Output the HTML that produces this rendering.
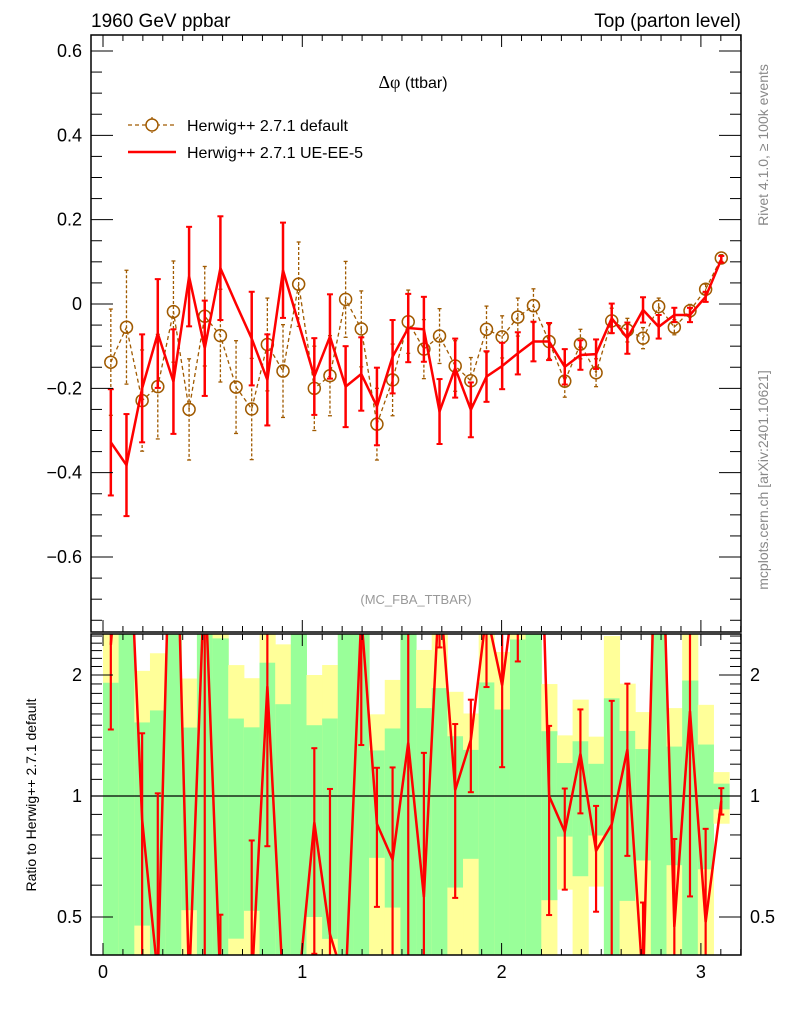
<!DOCTYPE html>
<html><head><meta charset="utf-8">
<style>
html,body{margin:0;padding:0;background:#fff;overflow:hidden;width:786px;height:1024px;}
svg{display:block;font-family:"Liberation Sans",sans-serif;}
</style></head>
<body>
<svg id="chart" width="786" height="1024" viewBox="0 0 786 1024">
<defs><clipPath id="ratioclip"><rect x="91" y="634" width="650" height="321"/></clipPath></defs>
<g id="gBands"></g>
<g id="gMarks"></g>
<g id="gRatio" clip-path="url(#ratioclip)"></g>
<g id="gAxes"></g>
<text x="91" y="27" font-size="19">1960 GeV ppbar</text>
<text x="741" y="27" font-size="19" text-anchor="end">Top (parton level)</text>
<text x="413" y="88" font-size="16" text-anchor="middle"><tspan font-family="Liberation Serif" font-size="18">Δφ</tspan> (ttbar)</text>
<text x="416" y="604" font-size="13" fill="#999" text-anchor="middle">(MC_FBA_TTBAR)</text>
<g>
 <g>
  <line x1="128" y1="125" x2="176" y2="125" stroke="#a05a00" stroke-width="1.3" stroke-dasharray="4,3"/>
  <line x1="152" y1="117" x2="152" y2="133" stroke="#a05a00" stroke-width="1.3" stroke-dasharray="3,2"/>
  <circle cx="152" cy="125" r="6" fill="#fff" stroke="#a05a00" stroke-width="1.5"/>
  <text x="187" y="131" font-size="16">Herwig++ 2.7.1 default</text>
 </g>
 <g>
  <line x1="128" y1="152" x2="176" y2="152" stroke="#ff0000" stroke-width="2.5"/>
  <text x="187" y="158" font-size="16">Herwig++ 2.7.1 UE-EE-5</text>
 </g>
</g>
<text transform="translate(768,145) rotate(-90)" font-size="14" fill="#888" text-anchor="middle">Rivet 4.1.0, ≥ 100k events</text>
<text transform="translate(768,480) rotate(-90)" font-size="14" fill="#888" text-anchor="middle">mcplots.cern.ch [arXiv:2401.10621]</text>
<text transform="translate(36,795) rotate(-90)" font-size="14" text-anchor="middle">Ratio to Herwig++ 2.7.1 default</text>
</svg>
<script>
var defaultVals=[-0.138,-0.055,-0.229,-0.196,-0.018,-0.25,-0.029,-0.075,-0.197,-0.249,-0.096,-0.159,0.047,-0.2,-0.17,0.011,-0.059,-0.285,-0.18,-0.042,-0.107,-0.076,-0.147,-0.182,-0.06,-0.078,-0.031,-0.004,-0.089,-0.183,-0.095,-0.163,-0.04,-0.062,-0.081,-0.006,-0.055,-0.016,0.035,0.109];
var defaultErrs=[0.126,0.135,0.12,0.124,0.12,0.12,0.118,0.11,0.11,0.12,0.11,0.11,0.1,0.1,0.095,0.09,0.09,0.085,0.085,0.075,0.07,0.065,0.06,0.055,0.055,0.05,0.045,0.04,0.04,0.038,0.035,0.033,0.03,0.028,0.025,0.02,0.018,0.015,0.012,0.008];
var ueVals=[-0.328,-0.382,-0.2,-0.07,-0.184,0.065,-0.105,0.085,0.0,-0.082,-0.18,0.08,-0.046,-0.172,-0.077,-0.196,-0.166,-0.243,-0.125,-0.057,-0.06,-0.255,-0.152,-0.251,-0.172,-0.147,-0.117,-0.089,-0.089,-0.149,-0.121,-0.119,-0.034,-0.081,-0.014,-0.054,-0.026,-0.026,0.017,0.106];
var ueErrs=[0.126,0.121,0.128,0.129,0.124,0.118,0.113,0.123,0,0.111,0.108,0.113,0,0.091,0.1,0.096,0.087,0.092,0.087,0.081,0.077,0.077,0.07,0.065,0.06,0.055,0.05,0.047,0.044,0.042,0.035,0.035,0.035,0.037,0.03,0.028,0.017,0.017,0.012,0.008];
var yTicks=[0.6,0.4,0.2,0,-0.2,-0.4,-0.6];
var xTicks=[0,1,2,3];
var rTicks=[0.5,1,2];

(function(){
var SVGNS="http://www.w3.org/2000/svg";
var pL=91,pR=741,pT=35,pMB=632,pRT=634,pRB=955,below=pRB+30;
function sx(v){return 103+v*199.3;}
function sy(v){return 304-v*421.7;}
function sr(r){return Math.min(below,796-Math.log(r)/Math.LN2*121);}
var nBins=defaultVals.length, binW=Math.PI/nBins;
function xc(i){return sx((i+0.5)*binW);}
function mk(tag,attrs,parent){var el=document.createElementNS(SVGNS,tag);for(var k in attrs){el.setAttribute(k,String(attrs[k]));}parent.appendChild(el);return el;}
var gBands=document.getElementById('gBands'),gMarks=document.getElementById('gMarks'),gRatio=document.getElementById('gRatio'),gAxes=document.getElementById('gAxes');
function clipR(v){return Math.max(pRT,Math.min(pRB,v));}
var i,k,x,el;
try{
for(i=0;i<nBins;i++){
  var x0=sx(i*binW),x1=sx((i+1)*binW),rel=defaultErrs[i]/Math.abs(defaultVals[i]);
  var specs=[[2,'#ffff99'],[1,'#99ff99']];
  for(k=0;k<2;k++){
    var m=specs[k][0],hi=1+m*rel,lo=1-m*rel;
    var yt=clipR(sr(hi)),yb=lo>0?clipR(sr(lo)):pRB;
    el=mk('rect',{x:x0,y:yt,width:x1-x0+0.5,height:Math.max(0,yb-yt),fill:specs[k][1]},gBands);
    
    
  }
}
}catch(err){}
try{
var pd='';
for(i=0;i<nBins;i++){
  x=xc(i);
  pd+=(i?'L':'M')+x+','+sy(defaultVals[i]);
  el=mk('line',{x1:x,x2:x,y1:sy(defaultVals[i]+defaultErrs[i]),y2:sy(defaultVals[i]-defaultErrs[i]),stroke:'#a05a00','stroke-width':1.3,'stroke-dasharray':'3,2'},gMarks);
  
  
  mk('line',{x1:x-2,x2:x+2,y1:sy(defaultVals[i]+defaultErrs[i]),y2:sy(defaultVals[i]+defaultErrs[i]),stroke:'#a05a00','stroke-width':1.3},gMarks);
  mk('line',{x1:x-2,x2:x+2,y1:sy(defaultVals[i]-defaultErrs[i]),y2:sy(defaultVals[i]-defaultErrs[i]),stroke:'#a05a00','stroke-width':1.3},gMarks);
}
el=mk('path',{d:pd,fill:'none',stroke:'#a05a00','stroke-width':1.3,'stroke-dasharray':'4,3'},gMarks);


for(i=0;i<nBins;i++){
  el=mk('circle',{cx:xc(i),cy:sy(defaultVals[i]),r:6,fill:'none',stroke:'#a05a00','stroke-width':1.5},gMarks);
  
  
}
var pr='';
for(i=0;i<nBins;i++){
  x=xc(i);
  pr+=(i?'L':'M')+x+','+sy(ueVals[i]);
  if(ueErrs[i]>0){
    el=mk('line',{x1:x,x2:x,y1:sy(ueVals[i]+ueErrs[i]),y2:sy(ueVals[i]-ueErrs[i]),stroke:'#ff0000','stroke-width':2.5},gMarks);
    
    
    mk('line',{x1:x-3,x2:x+3,y1:sy(ueVals[i]+ueErrs[i]),y2:sy(ueVals[i]+ueErrs[i]),stroke:'#ff0000','stroke-width':2},gMarks);
    mk('line',{x1:x-3,x2:x+3,y1:sy(ueVals[i]-ueErrs[i]),y2:sy(ueVals[i]-ueErrs[i]),stroke:'#ff0000','stroke-width':2},gMarks);
  }
}
el=mk('path',{d:pr,fill:'none',stroke:'#ff0000','stroke-width':2.5},gMarks);


}catch(err){}
try{
mk('line',{x1:pL,x2:pR,y1:sr(1),y2:sr(1),stroke:'#000','stroke-width':1.2},gRatio);
var rp='';
for(i=0;i<nBins;i++){
  var r=ueVals[i]/defaultVals[i],re=ueErrs[i]/Math.abs(defaultVals[i]);
  var yy=r>0?sr(r):below;
  rp+=(i?'L':'M')+xc(i)+','+yy;
  if(re>0){
    var h=r+re,l=r-re;
    var ya=h>0?sr(h):below,yb2=l>0?sr(l):below;
    el=mk('line',{x1:xc(i),x2:xc(i),y1:ya,y2:yb2,stroke:'#ff0000','stroke-width':2.2},gRatio);
    
    
    mk('line',{x1:xc(i)-3,x2:xc(i)+3,y1:ya,y2:ya,stroke:'#ff0000','stroke-width':2},gRatio);
    mk('line',{x1:xc(i)-3,x2:xc(i)+3,y1:yb2,y2:yb2,stroke:'#ff0000','stroke-width':2},gRatio);
  }
}
el=mk('path',{d:rp,fill:'none',stroke:'#ff0000','stroke-width':2.5},gRatio);


}catch(err){}
try{
mk('rect',{x:pL,y:pT,width:pR-pL,height:pMB-pT,fill:'none',stroke:'#000','stroke-width':1.5},gAxes);
mk('rect',{x:pL,y:pRT,width:pR-pL,height:pRB-pRT,fill:'none',stroke:'#000','stroke-width':1.5},gAxes);
var n,v,y,len;
for(n=-15;n<=12;n++){
  v=n*0.05;y=sy(v);if(y<pT||y>pMB)continue;
  len=(n%4===0)?22:11;
  mk('line',{x1:pL,x2:pL+len,y1:y,y2:y,stroke:'#000'},gAxes);
  mk('line',{x1:pR-len,x2:pR,y1:y,y2:y,stroke:'#000'},gAxes);
}
for(k=0;k<yTicks.length;k++){
  v=yTicks[k];
  el=mk('text',{x:82,y:sy(v)+6,'font-size':18,'text-anchor':'end'},gAxes);
  el.textContent=(v<0?'\u2212':'')+String(Math.abs(v));
  
  
}
for(n=0;n<=32;n++){
  x=sx(n/10);if(x>pR)continue;
  len=(n%10===0)?12:6;
  mk('line',{x1:x,x2:x,y1:pT,y2:pT+len,stroke:'#000'},gAxes);
  mk('line',{x1:x,x2:x,y1:pMB,y2:pMB-len,stroke:'#000'},gAxes);
  mk('line',{x1:x,x2:x,y1:pRT,y2:pRT+len,stroke:'#000'},gAxes);
  mk('line',{x1:x,x2:x,y1:pRB,y2:pRB-len,stroke:'#000'},gAxes);
}
for(k=0;k<xTicks.length;k++){
  el=mk('text',{x:sx(xTicks[k]),y:978,'font-size':18,'text-anchor':'middle'},gAxes);
  el.textContent=String(xTicks[k]);
  
  
}
var minor=[0.4,0.5,0.6,0.7,0.8,0.9,1,1.1,1.2,1.3,1.4,1.5,1.6,1.7,1.8,1.9,2,2.1,2.2,2.3,2.4,2.5];
for(k=0;k<minor.length;k++){
  y=sr(minor[k]);if(y<pRT||y>pRB)continue;
  len=rTicks.indexOf(minor[k])>=0?22:11;
  mk('line',{x1:pL,x2:pL+len,y1:y,y2:y,stroke:'#000'},gAxes);
  mk('line',{x1:pR-len,x2:pR,y1:y,y2:y,stroke:'#000'},gAxes);
}
for(k=0;k<rTicks.length;k++){
  el=mk('text',{x:82,y:sr(rTicks[k])+6,'font-size':18,'text-anchor':'end'},gAxes);
  el.textContent=String(rTicks[k]);
  
  
  el=mk('text',{x:750,y:sr(rTicks[k])+6,'font-size':18,'text-anchor':'start'},gAxes);
  el.textContent=String(rTicks[k]);
  
  
}
}catch(err){}
})();
</script>
</body></html>
